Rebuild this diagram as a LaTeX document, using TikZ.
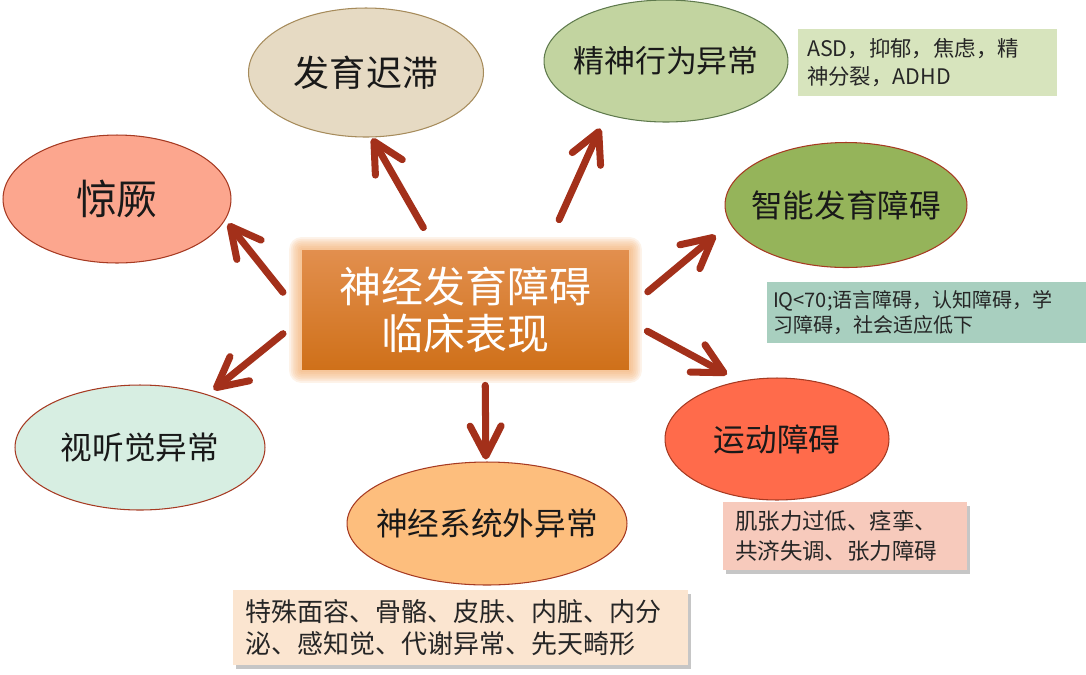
\documentclass[tikz,border=0pt]{standalone}
\usepackage{fontspec}
\newfontfamily\cjk{Noto Sans CJK SC}
\usetikzlibrary{shapes.geometric,arrows.meta,shadows,backgrounds}
\definecolor{arrowred}{HTML}{A3301A}
\definecolor{rimred}{HTML}{A63A22}
\definecolor{coretop}{HTML}{E28F4E}
\definecolor{corebot}{HTML}{CF7019}
\definecolor{glow}{HTML}{F2A865}
\begin{document}
\begin{tikzpicture}[x=0.02cm,y=-0.02cm,
  bubble/.style={ellipse,draw=rimred,line width=0.6pt,inner sep=0pt,text=black!90,font=\cjk\fontsize{18}{22}\selectfont},
  note/.style={rectangle,inner sep=0pt,align=left,text=black!85,font=\cjk},
  arr/.style={arrowred,line width=4pt,line cap=round,-{Straight Barb[length=6mm,width=6.2mm,round]}}]
\useasboundingbox (0,0) rectangle (1086,674);

\node[bubble,fill={rgb,255:red,230;green,218;blue,195},draw={rgb,255:red,166;green,139;blue,91},minimum width=4.7cm,minimum height=2.58cm,font=\cjk\fontsize{20.5}{24}\selectfont] (delay) at (366,72.5) {发育迟滞};
\node[bubble,fill={rgb,255:red,194;green,212;blue,160},draw={rgb,255:red,95;green,122;blue,77},minimum width=4.88cm,minimum height=2.44cm,font=\cjk\fontsize{17.6}{21}\selectfont] (psych) at (666,61) {\makebox[0pt]{精神行为异常}};
\node[bubble,fill={rgb,255:red,252;green,166;blue,142},minimum width=4.56cm,minimum height=2.56cm,font=\cjk\fontsize{23.3}{26}\selectfont] (fits) at (117,199) {惊厥};
\node[bubble,fill={rgb,255:red,149;green,180;blue,90},minimum width=4.84cm,minimum height=2.5cm] (intel) at (846,205) {\makebox[0pt]{智能发育障碍}};
\node[bubble,fill={rgb,255:red,215;green,238;blue,226},minimum width=5cm,minimum height=2.5cm] (sense) at (140,447.5) {视听觉异常};
\node[bubble,fill={rgb,255:red,253;green,190;blue,125},minimum width=5.6cm,minimum height=2.46cm] (extra) at (487,523.5) {\makebox[0pt]{神经系统外异常}};
\node[bubble,fill={rgb,255:red,255;green,107;blue,75},minimum width=4.48cm,minimum height=2.44cm] (motor) at (777,439) {运动障碍};

\node[note,fill={rgb,255:red,215;green,228;blue,189},minimum width=5.18cm,minimum height=1.34cm,text width=4.82cm,font=\cjk\fontsize{12.2}{15.9}\selectfont] (psychnote) at (927.5,62.5) {ASD，抑郁，焦虑，精\\神分裂，ADHD};
\node[note,fill={rgb,255:red,168;green,207;blue,191},minimum width=6.38cm,minimum height=1.22cm,text width=6.14cm,font=\cjk\fontsize{11.4}{14.2}\selectfont] (intelnote) at (926.5,312.5) {IQ<70;语言障碍，认知障碍，学\\习障碍，社会适应低下};
\node[note,fill={rgb,255:red,247;green,202;blue,188},drop shadow={shadow xshift=0.06cm,shadow yshift=-0.08cm,opacity=0.45},minimum width=4.88cm,minimum height=1.36cm,text width=4.4cm,font=\cjk\fontsize{12.8}{17}\selectfont] (motornote) at (845,536) {肌张力过低、痉挛、\\共济失调、张力障碍};
\node[note,fill={rgb,255:red,251;green,229;blue,208},drop shadow={shadow xshift=0.06cm,shadow yshift=-0.08cm,opacity=0.45},minimum width=9.1cm,minimum height=1.5cm,text width=8.62cm,font=\cjk\fontsize{14.8}{18.2}\selectfont] (extranote) at (460.5,627.5) {特殊面容、骨骼、皮肤、内脏、内分\\泌、感知觉、代谢异常、先天畸形};

\node[top color=coretop,bottom color=corebot,minimum width=6.54cm,minimum height=2.4cm,inner sep=0pt,align=center,text=white,font=\cjk\fontsize{23.9}{26.7}\selectfont] (core) at (465.5,310) {神经发育障碍\\临床表现};
\begin{scope}[on background layer]
\foreach \g in {1,...,7}
  \fill[glow,opacity=0.14,rounded corners=\g pt] ([shift={(-1.8*\g,-1.8*\g)}]core.north west) rectangle ([shift={(1.8*\g,1.8*\g)}]core.south east);
\end{scope}

\draw[arr,shorten <=0.51cm,shorten >=0.02cm] (core.116.6) -- (delay.-85);
\draw[arr,shorten <=0.66cm,shorten >=0.30cm] (core.37.3) -- (psych.-138.3);
\draw[arr,shorten <=0.60cm,shorten >=0.09cm] (core.182.1) -- (fits.-11.4);
\draw[arr,shorten <=0.48cm,shorten >=0.37cm] (core.1.9) -- (intel.189.6);
\draw[arr,shorten <=0.41cm,shorten >=0.28cm] (core.-4.7) -- (motor.123.2);
\draw[arr,shorten <=0.30cm,shorten >=0.04cm] (core.-72) -- (extra.91.9);
\draw[arr,shorten <=0.48cm,shorten >=0.15cm] (core.183.5) -- (sense.38.2);
\end{tikzpicture}
\end{document}
